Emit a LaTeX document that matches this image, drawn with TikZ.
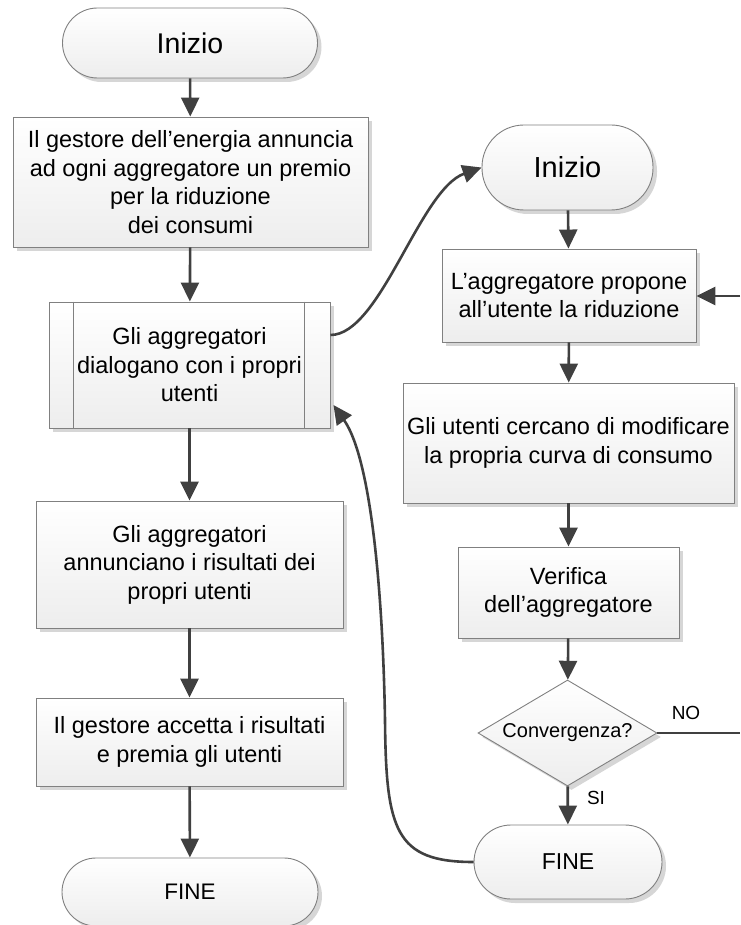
\documentclass[tikz,border=0pt]{standalone}
\usepackage{fontspec}
\setmainfont{Liberation Sans}
\usetikzlibrary{arrows.meta,shapes.geometric,shadows}

\begin{document}
\begin{tikzpicture}[
    x=1pt, y=-1pt,
    every node/.style={font=\fontsize{23.5}{28.5}\selectfont, text=black, align=center},
    shape base/.style={draw=black!50, line width=0.9pt, top color=white, bottom color=black!7,
                       general shadow={fill=black!16, shadow xshift=4pt, shadow yshift=-4pt}},
    procbox/.style={shape base, rectangle, inner sep=0pt},
    termbox/.style={shape base, rectangle, inner sep=0pt},
    decbox/.style={shape base, diamond, aspect=1.69, inner sep=0pt},
    flow/.style={draw=black!75, line width=2.6pt, -{Triangle[length=19pt,width=18pt]}},
    plain/.style={draw=black!75, line width=2.6pt},
    edgelabel/.style={font=\fontsize{19}{22}\selectfont}
  ]
  \useasboundingbox (0,0) rectangle (740,925);

  % ---------- main procedure (left column) ----------
  \node[termbox, minimum width=255pt, minimum height=70pt, rounded corners=35pt,
        font=\fontsize{28.5}{32}\selectfont] (start1) at (190,43) {Inizio};
  \node[procbox, minimum width=355pt, minimum height=130pt] (box1) at (190.5,182)
    {Il gestore dell’energia annuncia\\ad ogni aggregatore un premio\\per la riduzione\\dei consumi};
  \node[procbox, minimum width=281pt, minimum height=126pt] (box2) at (189.5,365)
    {Gli aggregatori\\dialogano con i propri\\utenti};
  \draw[draw=black!50, line width=0.9pt]
    ([xshift=25pt]box2.north west) -- ([xshift=25pt]box2.south west)
    ([xshift=-26pt]box2.north east) -- ([xshift=-26pt]box2.south east);
  \node[procbox, minimum width=307pt, minimum height=127pt] (box3) at (189.5,564.5)
    {Gli aggregatori\\annunciano i risultati dei\\propri utenti};
  \node[procbox, minimum width=307pt, minimum height=88pt] (box4) at (189.5,742)
    {Il gestore accetta i risultati\\e premia gli utenti};
  \node[termbox, minimum width=256pt, minimum height=68pt, rounded corners=34pt,
        font=\fontsize{22.5}{26}\selectfont] (end1) at (190,892) {FINE};

  % ---------- aggregator sub-procedure (right column) ----------
  \node[termbox, minimum width=171pt, minimum height=85pt, rounded corners=42pt,
        font=\fontsize{29}{32}\selectfont] (start2) at (567.5,167.5) {Inizio};
  \node[procbox, minimum width=254pt, minimum height=93pt] (r1) at (569,295.5)
    {L’aggregatore propone\\all’utente la riduzione};
  \node[procbox, minimum width=331pt, minimum height=120pt] (r2) at (568.5,443)
    {Gli utenti cercano di modificare\\la propria curva di consumo};
  \node[procbox, minimum width=221pt, minimum height=91pt] (r3) at (568.5,592.5)
    {Verifica\\dell’aggregatore};
  \node[decbox, minimum width=179pt, minimum height=106pt,
        font=\fontsize{20}{24}\selectfont] (dec) at (567.5,733) {Convergenza?};
  \node[termbox, minimum width=188pt, minimum height=74pt, rounded corners=37pt,
        font=\fontsize{23}{26}\selectfont] (end2) at (568,862) {FINE};

  \node[edgelabel] (nolab) at (686,713) {NO};
  \node[edgelabel] (silab) at (596,798) {SI};

  % loop back from the decision to the proposal step
  \coordinate (noout) at (740,733);
  \coordinate (noin) at (740,296);
  \coordinate (bend) at (385,720);

  % ---------- connectors ----------
  \draw[flow] (start1) -- (box1);
  \draw[flow] (box1) -- (box2);
  \draw[flow] (box2) -- (box3);
  \draw[flow] (box3) -- (box4);
  \draw[flow] (box4) -- (end1);

  \draw[flow] (start2) -- (r1);
  \draw[flow] (r1) -- (r2);
  \draw[flow] (r2) -- (r3);
  \draw[flow] (r3) -- (dec);
  \draw[flow] (dec) -- (end2);

  \draw[plain] (dec.east) -- (noout);
  \draw[flow] (noin) -- (r1.east |- noin);

  \draw[flow] ([yshift=30pt]box2.east) .. controls +(50,0) and +(-62,22) .. (start2.west);
  \draw[flow] (end2.west) .. controls (395,862) and (386,830) .. (bend)
              .. controls (383,600) and (372,460) .. ([xshift=3pt,yshift=-40pt]box2.east);
\end{tikzpicture}
\end{document}
